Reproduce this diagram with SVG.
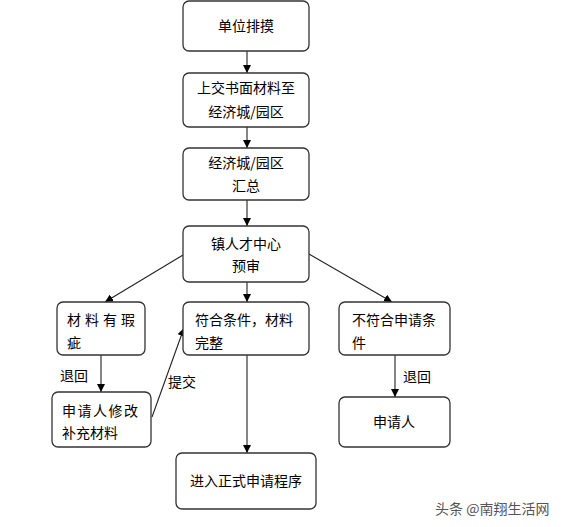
<svg xmlns="http://www.w3.org/2000/svg" width="567" height="527" viewBox="0 0 567 527">
<style>
.box{fill:#fff;stroke:#333;stroke-width:1.3}
.t{font-family:"Noto Sans CJK SC","Noto Sans",sans-serif;font-size:14px;fill:#000}
.c{text-anchor:middle}
.e{stroke:#222;stroke-width:1.1;fill:none}
.wm{font-family:"Noto Sans CJK SC",sans-serif;font-size:14px;fill:#555}
</style>
<defs>
<marker id="ah" viewBox="0 0 10 10" refX="10" refY="5" markerWidth="8" markerHeight="8" markerUnits="userSpaceOnUse" orient="auto">
<path d="M0,0 L10,5 L0,10 z" fill="#000"/>
</marker>
</defs>
<rect width="567" height="527" fill="#fff"/>
<g id="connectors">
<line class="e" x1="247" y1="51" x2="247" y2="73" marker-end="url(#ah)"/>
<line class="e" x1="247" y1="127" x2="247" y2="148" marker-end="url(#ah)"/>
<line class="e" x1="247" y1="200" x2="247" y2="226" marker-end="url(#ah)"/>
<line class="e" x1="247" y1="282" x2="247" y2="302" marker-end="url(#ah)"/>
<line class="e" x1="183" y1="255" x2="105" y2="302" marker-end="url(#ah)"/>
<line class="e" x1="309" y1="254" x2="392" y2="302" marker-end="url(#ah)"/>
<line class="e" x1="101" y1="355" x2="101" y2="392" marker-end="url(#ah)"/>
<line class="e" x1="152" y1="417" x2="184" y2="328" marker-end="url(#ah)"/>
<line class="e" x1="247" y1="355" x2="247" y2="453" marker-end="url(#ah)"/>
<line class="e" x1="395" y1="355" x2="395" y2="397" marker-end="url(#ah)"/>
<text class="t" x="60" y="381">退回</text>
<text class="t" x="168" y="387">提交</text>
<text class="t" x="403" y="382">退回</text>
</g>
<g id="n1"><rect class="box" x="183" y="1" width="126" height="50" rx="6"/><text class="t c" x="246" y="31">单位排摸</text></g>
<g id="n2"><rect class="box" x="183" y="73" width="126" height="54" rx="6"/><text class="t c" x="246" y="93">上交书面材料至</text><text class="t c" x="246" y="117">经济城/园区</text></g>
<g id="n3"><rect class="box" x="183" y="148" width="126" height="52" rx="6"/><text class="t c" x="246" y="168">经济城/园区</text><text class="t c" x="246" y="191">汇总</text></g>
<g id="n4"><rect class="box" x="183" y="226" width="126" height="56" rx="6"/><text class="t c" x="246" y="249">镇人才中心</text><text class="t c" x="246" y="271">预审</text></g>
<g id="n5"><rect class="box" x="57" y="302" width="88" height="53" rx="6"/><text class="t" x="67" y="325" letter-spacing="4">材料有瑕</text><text class="t" x="67" y="348">疵</text></g>
<g id="n6"><rect class="box" x="183" y="302" width="126" height="53" rx="6"/><text class="t" x="195" y="325">符合条件，材料</text><text class="t" x="195" y="348">完整</text></g>
<g id="n7"><rect class="box" x="339" y="302" width="111" height="53" rx="6"/><text class="t" x="352" y="325">不符合申请条</text><text class="t" x="352" y="348">件</text></g>
<g id="n8"><rect class="box" x="52" y="392" width="99" height="55" rx="6"/><text class="t" x="62" y="416" letter-spacing="1.5">申请人修改</text><text class="t" x="62" y="438">补充材料</text></g>
<g id="n9"><rect class="box" x="339" y="397" width="111" height="50" rx="6"/><text class="t c" x="394" y="427">申请人</text></g>
<g id="n10"><rect class="box" x="176" y="453" width="140" height="56" rx="6"/><text class="t c" x="246" y="486">进入正式申请程序</text></g>
<text class="wm" x="435" y="514">头条 @南翔生活网</text>
</svg>
